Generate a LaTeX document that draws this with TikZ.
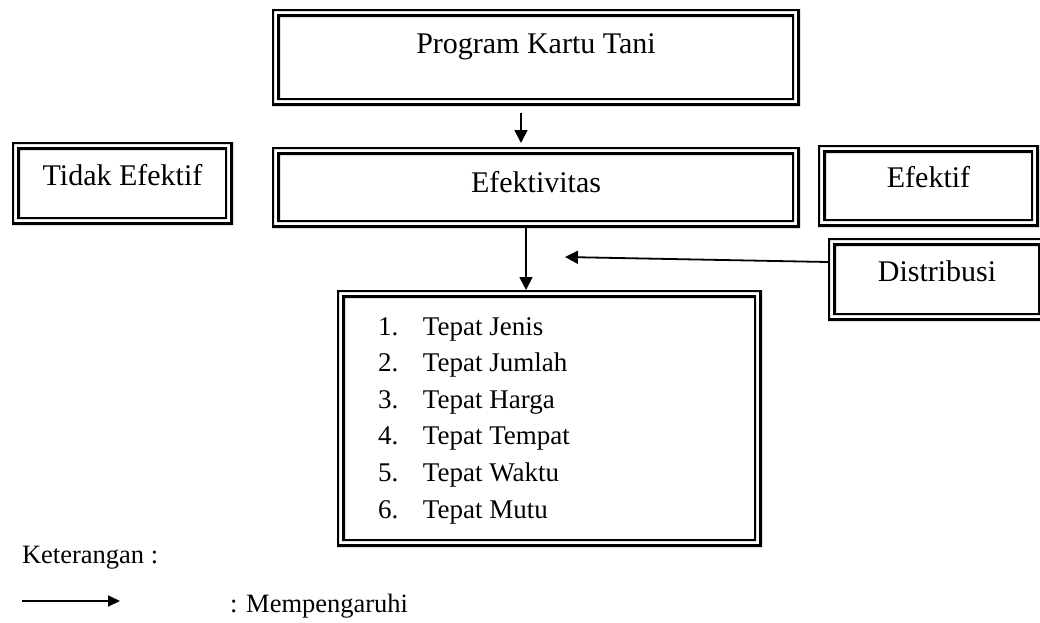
\documentclass[tikz,border=0pt]{standalone}
\usepackage{fontspec}
\setmainfont{Liberation Serif}
\usetikzlibrary{calc,arrows.meta}

% thin-thick compound border drawn inside the rectangle of node #1
\newcommand\compoundframe[1]{%
  \fill[even odd rule] (#1.north west) rectangle (#1.south east)
    ($(#1.north west)+(2,2)$) rectangle ($(#1.south east)+(-3,-3)$);
  \fill[even odd rule] ($(#1.north west)+(5,5)$) rectangle ($(#1.south east)+(-6,-6)$)
    ($(#1.north west)+(8,8)$) rectangle ($(#1.south east)+(-8,-8)$);
}

\begin{document}
\begin{tikzpicture}[x=1pt,y=-1pt,
  framebox/.style={rectangle, inner sep=0pt, outer sep=0pt, anchor=north west,
    font=\fontsize{30}{36}\selectfont},
  plain/.style={inner sep=0pt, outer sep=0pt, anchor=base west,
    font=\fontsize{26.5}{32}\selectfont},
  arr/.style={line width=1.8pt, -{Triangle[length=13pt,width=13pt]}},
  legendarr/.style={line width=1.8pt, -{Triangle[length=12pt,width=11pt]}}]
\useasboundingbox (0,0) rectangle (1040,622);

% boxes
\node[framebox, minimum width=528pt, minimum height=97pt,
      text height=44pt, text depth=53pt] (prog) at (272,9) {Program Kartu Tani};
\node[framebox, minimum width=528pt, minimum height=81pt,
      text height=45pt, text depth=36pt] (efek) at (272,147) {Efektivitas};
\node[framebox, minimum width=221pt, minimum height=83pt,
      text height=43pt, text depth=40pt] (tidak) at (12,142) {Tidak Efektif};
\node[framebox, minimum width=221pt, minimum height=82pt,
      text height=42pt, text depth=40pt] (efektif) at (818,145) {Efektif};
\node[framebox, minimum width=218pt, minimum height=83pt,
      text height=43pt, text depth=40pt] (dist) at (828,238) {Distribusi};
\node[framebox, minimum width=425pt, minimum height=257pt] (list) at (337,290) {};

\foreach \n in {prog,efek,tidak,efektif,dist,list} {\compoundframe{\n}}

% list of indicators
\node[plain, font=\fontsize{27}{36.6}\selectfont] (items) at (378,335) {%
  \begin{tabular}[t]{@{}p{45pt}@{}l@{}}
  1. & Tepat Jenis\\
  2. & Tepat Jumlah\\
  3. & Tepat Harga\\
  4. & Tepat Tempat\\
  5. & Tepat Waktu\\
  6. & Tepat Mutu
  \end{tabular}};

% connectors
\draw[arr] ([xshift=-15pt,yshift=-7pt]prog.south) -- ([xshift=-15pt,yshift=4pt]efek.north);
\draw[arr] ([xshift=-10pt]efek.south) -- ([xshift=-10pt]efek.south |- list.north);
\coordinate (dtip) at (565,257);
\draw[arr] ([yshift=17.5pt]dist.west) -- (dtip);

% legend
\node[plain] (ket) at (22,563) {Keterangan :};
\coordinate (lga) at (22,601);
\coordinate (lgb) at (120,601);
\draw[legendarr] (lga) -- (lgb);
\node[plain] (mp) at (230,612) {: Mempengaruhi};
\end{tikzpicture}
\end{document}
